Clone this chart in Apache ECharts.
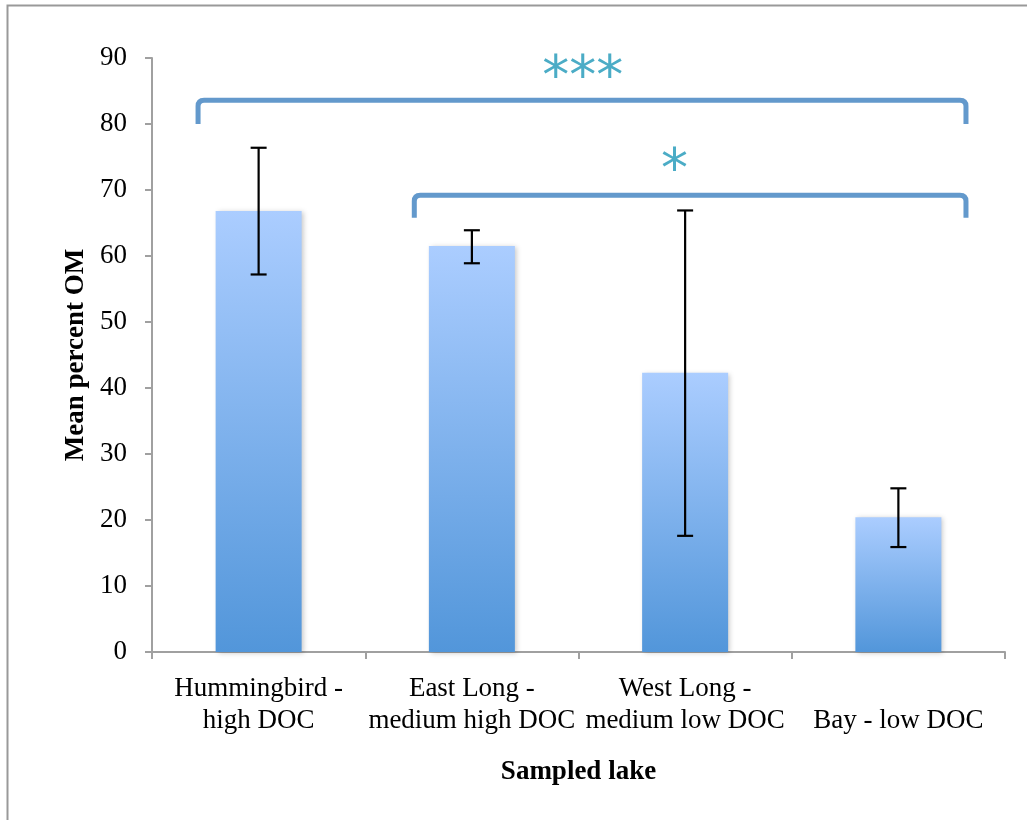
<!DOCTYPE html>
<html><head><meta charset="utf-8">
<script src="https://cdn.jsdelivr.net/npm/echarts@6/dist/echarts.min.js"></script>
<style>html,body{margin:0;padding:0;background:#fff}#c{width:1027px;height:820px}</style>
</head><body><div id="c"></div>
<script>
var categories = ['Hummingbird -\nhigh DOC', 'East Long -\nmedium high DOC', 'West Long -\nmedium low DOC', 'Bay - low DOC'];
var meanOM = [66.8, 61.5, 42.3, 20.4];
var errLow = [57.2, 58.9, 17.6, 15.9];
var errHigh = [76.4, 63.9, 66.9, 24.8];
var yTicks = {min: 0, max: 90, interval: 10};
// brackets: [xStart, xEnd, yBar, yEnd] on a 0..4 category-span scale
var brackets = [[0.216, 3.817, 83.6, 80.0], [1.23, 3.817, 69.2, 65.8]];
var sigLabels = [['***', 2.02, 86.8], ['*', 2.45, 72.8]];

var FONT = 'Liberation Serif';
var chart = echarts.init(document.getElementById('c'), null, {renderer: 'canvas'});
var axisGray = '#a0a0a0';
chart.setOption({
  animation: false,
  backgroundColor: '#fff',
  graphic: [{type: 'rect', shape: {x: 7.5, y: 5.5, width: 1040, height: 840}, style: {fill: 'none', stroke: '#999', lineWidth: 2}, z: -1}],
  grid: {left: 152, right: 22, top: 58, bottom: 168, containLabel: false},
  xAxis: [{
    type: 'category', data: categories,
    name: 'Sampled lake', nameLocation: 'middle', nameGap: 107,
    nameTextStyle: {fontFamily: FONT, fontWeight: 'bold', fontSize: 27, color: '#000'},
    axisLine: {lineStyle: {color: axisGray, width: 2}},
    axisTick: {show: true, length: 7, lineStyle: {color: axisGray, width: 2}, alignWithLabel: false},
    axisLabel: {
      fontFamily: FONT, fontSize: 27, color: '#000', margin: 21, lineHeight: 32, interval: 0,
      formatter: function (v) { return v.indexOf('\n') < 0 ? ' \n' + v : v; }
    }
  }, {
    type: 'value', min: 0, max: 4, show: false
  }],
  yAxis: {
    type: 'value', min: yTicks.min, max: yTicks.max, interval: yTicks.interval,
    name: 'Mean percent OM', nameLocation: 'middle', nameGap: 62, nameRotate: 90,
    nameTextStyle: {fontFamily: FONT, fontWeight: 'bold', fontSize: 27, color: '#000'},
    axisLine: {show: true, lineStyle: {color: axisGray, width: 2}},
    axisTick: {show: true, length: 7, lineStyle: {color: axisGray, width: 2}},
    splitLine: {show: false},
    axisLabel: {fontFamily: FONT, fontSize: 27, color: '#000', margin: 25}
  },
  series: [{
    type: 'bar', data: meanOM, barWidth: 86,
    itemStyle: {
      color: new echarts.graphic.LinearGradient(0, 0, 0, 1, [{offset: 0, color: '#abcdff'}, {offset: 1, color: '#5296da'}]),
      shadowBlur: 5, shadowColor: 'rgba(0,0,0,0.22)', shadowOffsetX: 2, shadowOffsetY: 1
    }
  }, {
    type: 'custom', z: 5,
    data: categories.map(function (c, i) { return [i, errLow[i], errHigh[i]]; }),
    renderItem: function (params, api) {
      var lo = api.coord([api.value(0), api.value(1)]);
      var hi = api.coord([api.value(0), api.value(2)]);
      var hw = 8;
      var st = {stroke: '#000', lineWidth: 2.2};
      return {type: 'group', children: [
        {type: 'line', shape: {x1: hi[0], y1: hi[1], x2: lo[0], y2: lo[1]}, style: st},
        {type: 'line', shape: {x1: hi[0] - hw, y1: hi[1], x2: hi[0] + hw, y2: hi[1]}, style: st},
        {type: 'line', shape: {x1: lo[0] - hw, y1: lo[1], x2: lo[0] + hw, y2: lo[1]}, style: st}
      ]};
    }
  }, {
    type: 'custom', xAxisIndex: 1, z: 6,
    data: brackets,
    renderItem: function (params, api) {
      var a = api.coord([api.value(0), api.value(2)]);
      var b = api.coord([api.value(1), api.value(2)]);
      var e = api.coord([api.value(0), api.value(3)]);
      var r = 6;
      var d = 'M' + a[0] + ' ' + e[1] + ' L' + a[0] + ' ' + (a[1] + r) +
        ' Q' + a[0] + ' ' + a[1] + ' ' + (a[0] + r) + ' ' + a[1] +
        ' L' + (b[0] - r) + ' ' + b[1] +
        ' Q' + b[0] + ' ' + b[1] + ' ' + b[0] + ' ' + (b[1] + r) +
        ' L' + b[0] + ' ' + e[1];
      return {type: 'path', shape: {pathData: d}, style: {fill: 'none', stroke: '#6399cc', lineWidth: 5}};
    }
  }, {
    type: 'custom', xAxisIndex: 1, z: 6,
    data: sigLabels.map(function (s) { return [s[1], s[2]]; }),
    renderItem: function (params, api) {
      var p = api.coord([api.value(0), api.value(1)]);
      var t = sigLabels[params.dataIndex][0];
      return {type: 'text', x: p[0], y: p[1], style: {text: t, fill: '#4bacc6', font: '54px "DejaVu Sans"', align: 'center', verticalAlign: 'middle'}};
    }
  }]
});
</script></body></html>
